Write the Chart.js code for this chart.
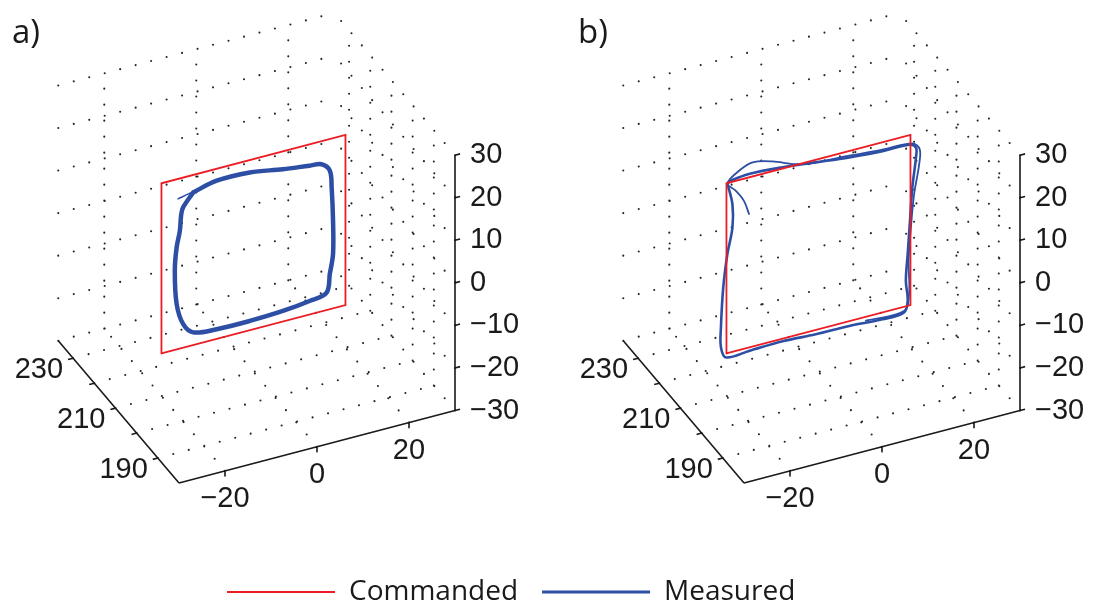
<!DOCTYPE html>
<html>
<head>
<meta charset="utf-8">
<script src="https://cdn.jsdelivr.net/npm/chart.js@4.4.1/dist/chart.umd.min.js"></script>
<style>
  html, body { margin: 0; padding: 0; background: #fff; overflow: hidden; }
  #wrap { position: relative; width: 1103px; height: 610px; overflow: hidden; }
  #figBox { position: absolute; left: 0; top: 0; width: 1103px; height: 610px; }
  #legBox { position: absolute; left: 203px; top: 554px; width: 700px; height: 160px; }
</style>
</head>
<body>
<div id="wrap">
  <div id="figBox"><canvas id="fig"></canvas></div>
  <div id="legBox"><canvas id="leg"></canvas></div>
</div>
<script>
// Limites e ticks dos eixos
const xLim = [-30, 30];
const yLim = [180, 237];
const zLim = [-30, 30];
const xTicks = [-20, 0, 20];
const yTicks = [190, 200, 210, 220, 230];
const yTickLabels = [190, 210, 230];
const zTicks = [-30, -20, -10, 0, 10, 20, 30];

// Quadrado comandado (plano y = 210)
const planeY = 210;
const cmdX = [-20, 20, 20, -20, -20];
const cmdZ = [-20, -20, 20, 20, -20];

// a) trajetória medida
const measA_x = [-13.1, -8.0, -0.8, 6.4, 12.2, 14.8, 16.6, 17.0, 17.3, 17.3, 16.6, 15.9, 12.2, 6.4, -0.8, -8.0, -13.1, -15.3, -16.7, -17.1, -16.7, -16.0, -15.7, -15.3, -13.1];
const measA_z = [15.9, 17.2, 17.1, 15.8, 15.0, 14.6, 12.6, 8.5, 0.6, -7.2, -11.7, -15.9, -16.8, -17.5, -17.8, -17.7, -17.0, -14.4, -9.3, -1.4, 4.0, 7.7, 11.5, 13.0, 15.9];
const tailA_x = [-16.4, -13.9, -11.0, -8.0];
const tailA_z = [15.3, 15.9, 16.5, 17.2];

// b) trajetória medida
const measB_x = [-19.8, -18.7, -18.7, -19.8, -20.7, -21.2, -21.2, -20.1, -15.1, -7.8, -0.6, 6.7, 13.9, 18.6, 19.4, 19.0, 19.4, 19.9, 20.4, 21.2, 21.2, 19.7, 13.9, 6.7, -0.6, -7.8, -15.1, -18.7, -19.8];
const measB_z = [19.9, 14.7, 9.2, 3.3, -4.3, -13.5, -18.2, -20.9, -20.8, -20.6, -21.0, -21.1, -21.6, -21.3, -18.8, -14.0, -7.8, -0.1, 7.5, 14.4, 16.7, 17.8, 17.9, 18.5, 19.4, 20.3, 20.8, 20.4, 19.9];
const arcB_x = [-15.1, -16.2, -18.0, -19.8, -17.2, -14.3, -10.0, -4.9, -0.6, 6.7, 13.9, 20.4, 22.0, 21.9, 20.8, 20.1, 19.6, 19.7, 18.6, 10.3];
const arcB_z = [11.4, 14.8, 17.7, 19.9, 22.2, 23.3, 22.3, 20.2, 19.4, 18.9, 18.3, 17.9, 16.1, 12.6, 5.9, -1.8, -9.5, -17.3, -21.0, -20.9];

const RED = '#ec1c24';
const BLUE = '#2d4ea5';

// Projeção 3D -> plano do gráfico (unidades por eixo)
const ex = [4.6, -1.208];
const ey = [-2.118, -2.496];
const ez = [0, -4.255];
const panels = [
  { label: 'a)', origin: [179, 483], labelPos: [12, 34] },
  { label: 'b)', origin: [744, 483], labelPos: [578, 34] }
];

function proj(p, x, y, z) {
  const dx = x - xLim[0], dy = y - yLim[0], dz = z - zLim[0];
  return {
    x: p.origin[0] + dx * ex[0] + dy * ey[0] + dz * ez[0],
    y: p.origin[1] + dx * ex[1] + dy * ey[1] + dz * ez[1]
  };
}

function planePath(p, xs, zs) {
  return xs.map((x, i) => proj(p, x, planeY, zs[i]));
}

const GAP = { x: NaN, y: NaN };

function gridLines(p) {
  const pts = [];
  const seg = (a, b) => { pts.push(proj(p, ...a), proj(p, ...b), GAP); };
  xTicks.forEach(x => {
    seg([x, yLim[1], zLim[0]], [x, yLim[1], zLim[1]]);
    seg([x, yLim[0], zLim[0]], [x, yLim[1], zLim[0]]);
  });
  zTicks.forEach(z => {
    seg([xLim[0], yLim[1], z], [xLim[1], yLim[1], z]);
    seg([xLim[1], yLim[0], z], [xLim[1], yLim[1], z]);
  });
  yTicks.forEach(y => {
    seg([xLim[1], y, zLim[0]], [xLim[1], y, zLim[1]]);
    seg([xLim[0], y, zLim[0]], [xLim[1], y, zLim[0]]);
  });
  return pts;
}

function axisLines(p) {
  const pts = [];
  const seg = (a, b) => { pts.push(proj(p, ...a), proj(p, ...b), GAP); };
  seg([xLim[0], yLim[0], zLim[0]], [xLim[1], yLim[0], zLim[0]]);
  seg([xLim[0], yLim[0], zLim[0]], [xLim[0], yLim[1], zLim[0]]);
  seg([xLim[1], yLim[0], zLim[0]], [xLim[1], yLim[0], zLim[1]]);
  xTicks.forEach(x => seg([x, yLim[0], zLim[0]], [x, yLim[0], zLim[0] - 1.2]));
  yTicks.forEach(y => seg([xLim[0], y, zLim[0]], [xLim[0] - 1.1, y, zLim[0]]));
  zTicks.forEach(z => seg([xLim[1], yLim[0], z], [xLim[1] + 1.1, yLim[0], z]));
  return pts;
}

const base = { showLine: true, pointRadius: 0, fill: false, borderCapStyle: 'round', borderJoinStyle: 'round' };

const datasets = [];
panels.forEach((p, i) => {
  datasets.push(Object.assign({}, base, {
    label: '', data: gridLines(p), borderColor: 'rgba(25,25,25,0.95)', borderWidth: 2.1,
    borderDash: [0, 16], tension: 0, order: 4
  }));
  datasets.push(Object.assign({}, base, {
    label: '', data: axisLines(p), borderColor: '#1a1a1a', borderWidth: 1.6, borderCapStyle: 'butt', tension: 0, order: 3
  }));
  datasets.push(Object.assign({}, base, {
    label: 'Commanded', data: planePath(p, cmdX, cmdZ), borderColor: RED, borderWidth: 1.8,
    borderJoinStyle: 'miter', tension: 0, order: 1
  }));
});
// medidas
datasets.push(Object.assign({}, base, { label: 'Measured', data: planePath(panels[0], measA_x, measA_z), borderColor: BLUE, borderWidth: 4.5, tension: 0.35, order: 2 }));
datasets.push(Object.assign({}, base, { label: '', data: planePath(panels[0], tailA_x, tailA_z), borderColor: BLUE, borderWidth: 1.5, tension: 0.35, order: 2 }));
datasets.push(Object.assign({}, base, { label: '', data: planePath(panels[1], measB_x, measB_z), borderColor: BLUE, borderWidth: 2.6, tension: 0.35, order: 2 }));
datasets.push(Object.assign({}, base, { label: '', data: planePath(panels[1], arcB_x, arcB_z), borderColor: BLUE, borderWidth: 1.8, tension: 0.35, order: 2 }));

const fmt = v => (v < 0 ? '\u2212' + Math.abs(v) : String(v));

// Rótulos dos eixos e dos painéis
const labelsPlugin = {
  id: 'rotulos3d',
  afterDatasetsDraw(chart) {
    const ctx = chart.ctx;
    const sx = chart.scales.x, sy = chart.scales.y;
    const px = pt => [sx.getPixelForValue(pt.x), sy.getPixelForValue(pt.y)];
    ctx.save();
    ctx.fillStyle = '#1a1a1a';
    panels.forEach(p => {
      ctx.font = '29px "Liberation Sans", Arial, sans-serif';
      ctx.textBaseline = 'middle';
      ctx.textAlign = 'left';
      zTicks.forEach(z => {
        const [u, v] = px(proj(p, xLim[1], yLim[0], z));
        ctx.fillText(fmt(z), u + 15, v);
      });
      ctx.textAlign = 'center';
      xTicks.forEach(x => {
        const [u, v] = px(proj(p, x, yLim[0], zLim[0]));
        ctx.fillText(fmt(x), u, v + 28);
      });
      ctx.textAlign = 'right';
      yTickLabels.forEach(y => {
        const [u, v] = px(proj(p, xLim[0], y, zLim[0]));
        ctx.fillText(fmt(y), u - 10, v + 12);
      });
      ctx.textAlign = 'left';
      ctx.font = '33px "Open Sans", sans-serif';
      ctx.fillText(p.label, p.labelPos[0], p.labelPos[1]);
    });
    ctx.restore();
  }
};

new Chart(document.getElementById('fig'), {
  type: 'scatter',
  data: { datasets },
  options: {
    responsive: true,
    maintainAspectRatio: false,
    animation: false,
    events: [],
    layout: { padding: 0 },
    scales: {
      x: { type: 'linear', min: 0, max: 1103, display: false },
      y: { type: 'linear', min: 0, max: 610, reverse: true, display: false }
    },
    plugins: { legend: { display: false }, tooltip: { enabled: false } }
  },
  plugins: [labelsPlugin]
});

// Legenda
new Chart(document.getElementById('leg'), {
  type: 'line',
  data: {
    labels: [],
    datasets: [
      { label: 'Commanded', data: [], borderColor: RED, borderWidth: 2 },
      { label: 'Measured', data: [], borderColor: BLUE, borderWidth: 3 }
    ]
  },
  options: {
    responsive: true,
    maintainAspectRatio: false,
    animation: false,
    events: [],
    scales: { x: { display: false }, y: { display: false } },
    plugins: {
      tooltip: { enabled: false },
      legend: {
        position: 'top',
        align: 'start',
        maxHeight: 120,
        labels: {
          usePointStyle: true,
          pointStyle: 'line',
          pointStyleWidth: 108,
          padding: 24,
          color: '#1a1a1a',
          font: { family: '"Open Sans", sans-serif', size: 28 }
        }
      }
    }
  }
});
</script>
</body>
</html>
